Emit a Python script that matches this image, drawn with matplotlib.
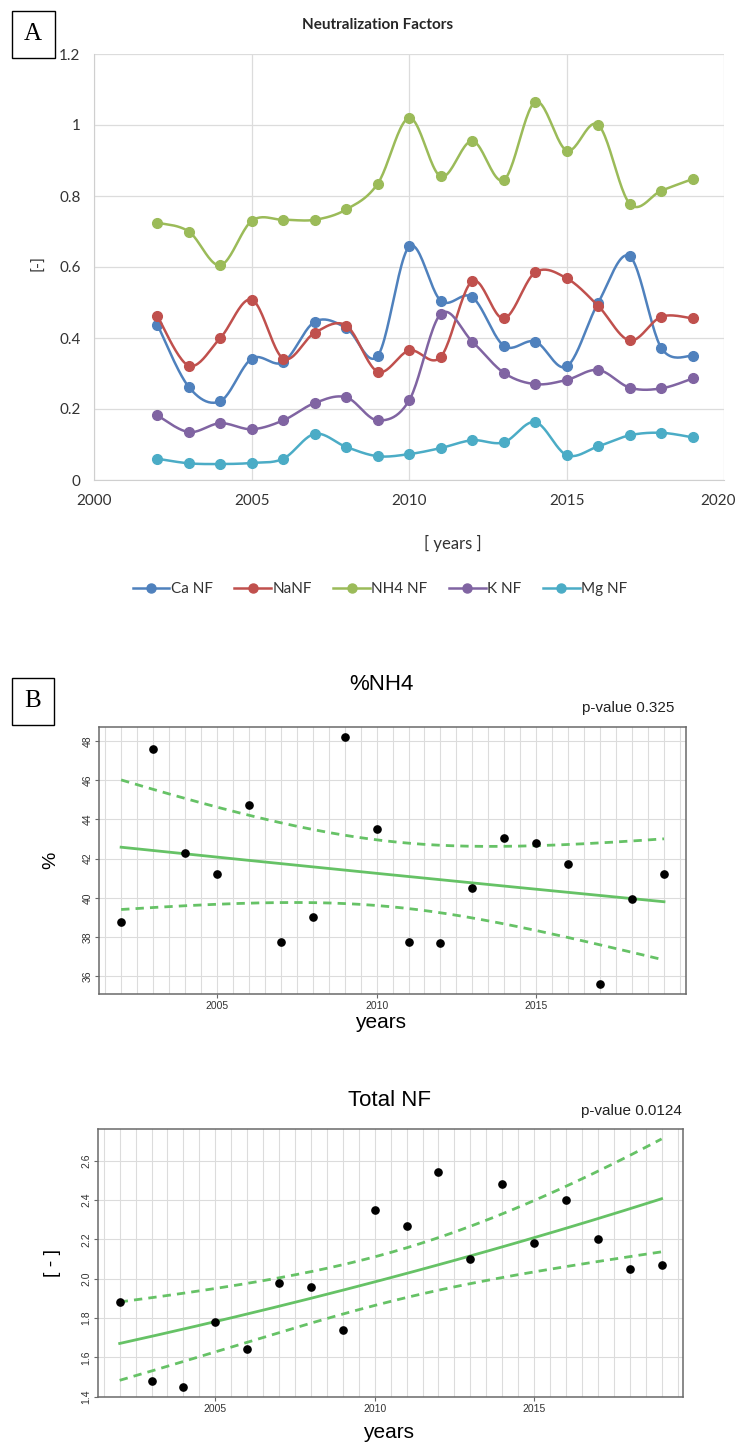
import numpy as np
import matplotlib
matplotlib.use('Agg')
import matplotlib.pyplot as plt
import matplotlib.transforms as mtransforms
from matplotlib.lines import Line2D

# ---- data ----
years = np.arange(2002, 2020)

ca_nf = [0.438, 0.262, 0.222, 0.342, 0.332, 0.446, 0.428, 0.350, 0.658, 0.505,
         0.515, 0.378, 0.390, 0.320, 0.500, 0.630, 0.372, 0.350]
na_nf = [0.462, 0.322, 0.400, 0.508, 0.342, 0.415, 0.435, 0.305, 0.365, 0.347,
         0.560, 0.455, 0.585, 0.568, 0.490, 0.393, 0.460, 0.455]
nh4_nf = [0.725, 0.700, 0.605, 0.730, 0.733, 0.733, 0.762, 0.835, 1.020, 0.855,
          0.955, 0.845, 1.065, 0.928, 1.000, 0.778, 0.815, 0.848]
k_nf = [0.182, 0.135, 0.160, 0.143, 0.168, 0.217, 0.233, 0.168, 0.225, 0.468,
        0.390, 0.302, 0.270, 0.282, 0.310, 0.260, 0.258, 0.286]
mg_nf = [0.060, 0.047, 0.045, 0.048, 0.060, 0.130, 0.093, 0.067, 0.073, 0.090,
         0.112, 0.106, 0.163, 0.070, 0.095, 0.126, 0.133, 0.120]

series_names = ['Ca NF', 'NaNF', 'NH4 NF', 'K NF', 'Mg NF']
series_colors = ['#4F81BD', '#C0504D', '#9BBB59', '#8064A2', '#4BACC6']

pct_nh4 = [38.76, 47.60, 42.27, 41.20, 44.75, 37.76, 39.05, 48.22, 43.50, 37.75,
           37.68, 40.49, 43.07, 42.81, 41.71, 35.61, 39.95, 41.24]
total_nf = [1.88, 1.48, 1.45, 1.78, 1.64, 1.98, 1.96, 1.74, 2.35, 2.27,
            2.54, 2.10, 2.48, 2.18, 2.40, 2.20, 2.05, 2.07]
pvals = ['0.325', '0.0124']

W, H = 739, 1443
fig = plt.figure(figsize=(W / 100, H / 100), dpi=100)
fig.patch.set_facecolor('white')


def box(l, t, r, b):
    return [l / W, 1 - b / H, (r - l) / W, (b - t) / H]


def smooth(x, y, n=24):
    # Catmull-Rom curve through the points (like Excel smoothed lines)
    pts = np.column_stack([x, y]).astype(float)
    p = np.vstack([pts[0], pts, pts[-1]])
    t = np.linspace(0, 1, n, endpoint=False)[:, None]
    out = []
    for i in range(1, len(p) - 2):
        p0, p1, p2, p3 = p[i - 1], p[i], p[i + 1], p[i + 2]
        seg = 0.5 * (2 * p1 + (-p0 + p2) * t + (2 * p0 - 5 * p1 + 4 * p2 - p3) * t ** 2
                     + (-p0 + 3 * p1 - 3 * p2 + p3) * t ** 3)
        out.append(seg)
    out.append(pts[-1:])
    r = np.vstack(out)
    return r[:, 0], r[:, 1]


def loglin_fit(x, y, xs, tval=2.12):
    x = np.asarray(x, float)
    ly = np.log(np.asarray(y, float))
    X = np.column_stack([np.ones_like(x), x - x.mean()])
    beta = np.linalg.lstsq(X, ly, rcond=None)[0]
    resid = ly - X @ beta
    s2 = resid @ resid / (len(x) - 2)
    cov = s2 * np.linalg.inv(X.T @ X)
    Xs = np.column_stack([np.ones_like(xs), xs - x.mean()])
    fit = Xs @ beta
    se = np.sqrt(np.einsum('ij,jk,ik->i', Xs, cov, Xs))
    return np.exp(fit), np.exp(fit - tval * se), np.exp(fit + tval * se)


def panel_label(letter, x, y):
    fig.text(x / W, 1 - y / H, letter, family='Liberation Serif', fontsize=18,
             ha='center', va='center',
             bbox=dict(boxstyle='square,pad=0.5', fc='white', ec='black', lw=1.0))


# ---------------- panel A ----------------
xl_font = 'Lato'
axA = fig.add_axes(box(94.3, 54, 724.3, 480))
all_series = [ca_nf, na_nf, nh4_nf, k_nf, mg_nf]
for vals, c in zip(all_series, series_colors):
    sx, sy = smooth(years, vals)
    axA.plot(sx, sy, color=c, lw=1.8, solid_capstyle='round')
    axA.plot(years, vals, 'o', color=c, ms=7, mec=c)
axA.set_xlim(2000, 2020)
axA.set_ylim(0, 1.2)
axA.set_xticks(np.arange(2000, 2021, 5))
axA.set_yticks(np.arange(0, 1.21, 0.2))
axA.set_yticklabels([f'{v:g}' for v in np.arange(0, 1.21, 0.2).round(1)])
axA.grid(True, color='#dcdcdc', lw=0.9)
axA.set_axisbelow(True)
for s in axA.spines.values():
    s.set_visible(False)
axA.spines['left'].set_visible(True)
axA.spines['left'].set_color('#cfcfcf')
axA.spines['bottom'].set_visible(True)
axA.spines['bottom'].set_color('#cfcfcf')
axA.tick_params(length=0, labelsize=11, colors='#333333', pad=10)
for lab in axA.get_xticklabels() + axA.get_yticklabels():
    lab.set_family(xl_font)
# keep the last year label inside the canvas
last = axA.get_xticklabels()[-1]
last.set_transform(last.get_transform() +
                   mtransforms.ScaledTranslation(-6 / 100, 0, fig.dpi_scale_trans))

fig.text(378 / W, 1 - 25 / H, 'Neutralization Factors', family=xl_font,
         fontweight='bold', fontsize=11, ha='center', va='center', color='#262626')
fig.text(38 / W, 1 - 263 / H, '[-]', family=xl_font, fontsize=11.5,
         rotation=90, ha='center', va='center', color='#333333')
fig.text(453 / W, 1 - 543 / H, '[ years ]', family=xl_font, fontsize=12,
         ha='center', va='center', color='#333333')
handles = [Line2D([0], [0], color=c, lw=1.8, marker='o', ms=6.5, mec=c) for c in series_colors]
leg = fig.legend(handles, series_names, loc='center', bbox_to_anchor=(380 / W, 1 - 589 / H),
                 ncol=5, frameon=False, handlelength=2.4, columnspacing=1.4,
                 handletextpad=0.1, prop={'family': xl_font, 'size': 11})
for t in leg.get_texts():
    t.set_color('#333333')
panel_label('A', 33, 34)

# ---------------- panels B and C ----------------
r_font = ['Liberation Sans Narrow', 'Liberation Sans', 'DejaVu Sans']
green = '#66c266'


def rect_mid(rect):
    return (1 - rect[1] - rect[3] / 2) * H


def r_panel(rect, vals, title, pval, ylab, yt, yfmt, title_xy, p_xy, ylab_x, years_y):
    ax = fig.add_axes(rect)
    xs = np.linspace(years[0], years[-1], 200)
    fit, lo, hi = loglin_fit(years, vals, xs)
    ax.plot(xs, fit, color=green, lw=2.0, zorder=3)
    ax.plot(xs, lo, color=green, lw=2.0, ls=(0, (3, 2.2)), zorder=3)
    ax.plot(xs, hi, color=green, lw=2.0, ls=(0, (3, 2.2)), zorder=3)
    ax.plot(years, vals, 'o', color='black', ms=5.2, zorder=4)
    span = years[-1] - years[0]
    ax.set_xlim(years[0] - 0.04 * span, years[-1] + 0.04 * span)
    ymin = min(np.min(vals), lo.min())
    ymax = max(np.max(vals), hi.max())
    ax.set_ylim(ymin - 0.04 * (ymax - ymin), ymax + 0.04 * (ymax - ymin))
    for gx in np.arange(2001.5, 2020, 0.5):
        ax.axvline(gx, color='#dcdcdc', lw=0.8, zorder=1)
    for gy in yt:
        ax.axhline(gy, color='#dcdcdc', lw=0.8, zorder=1)
    ax.set_xticks([2005, 2010, 2015])
    ax.set_yticks(yt)
    ax.set_yticklabels([yfmt.format(v) for v in yt])
    for s in ax.spines.values():
        s.set_color('#6a6a6a')
        s.set_linewidth(1.1)
    ax.tick_params(length=3, width=0.8, color='#6a6a6a', labelsize=7.5,
                   labelcolor='#333333', pad=2)
    ax.tick_params(axis='y', labelrotation=90)
    for lab in ax.get_xticklabels() + ax.get_yticklabels():
        lab.set_family(r_font)
    for lab in ax.get_yticklabels():
        lab.set_va('center')
    fig.text(title_xy[0] / W, 1 - title_xy[1] / H, title, family=r_font, fontsize=16,
             ha='center', va='center')
    fig.text(p_xy[0] / W, 1 - p_xy[1] / H, 'p-value ' + pval, family=r_font,
             fontsize=11, ha='right', va='center', color='#222222')
    fig.text(ylab_x / W, 1 - rect_mid(rect) / H, ylab, family=r_font, fontsize=14,
             rotation=90, ha='center', va='center')
    fig.text(title_xy[0] / W, 1 - years_y / H, 'years', family=r_font, fontsize=15,
             ha='center', va='center')
    return ax


r_panel(box(99.4, 726.7, 685.7, 994), pct_nh4, '%NH4', pvals[0], '%',
        [36, 38, 40, 42, 44, 46, 48], '{:d}', (381, 685), (674, 708), 51, 1022)
panel_label('B', 33, 701)

r_panel(box(98, 1129, 683.3, 1396.7), total_nf, 'Total NF', pvals[1], '[ - ]',
        [1.4, 1.6, 1.8, 2.0, 2.2, 2.4, 2.6], '{:.1f}', (389, 1100), (682, 1111), 53, 1433)

fig.savefig('out.png', dpi=100)
